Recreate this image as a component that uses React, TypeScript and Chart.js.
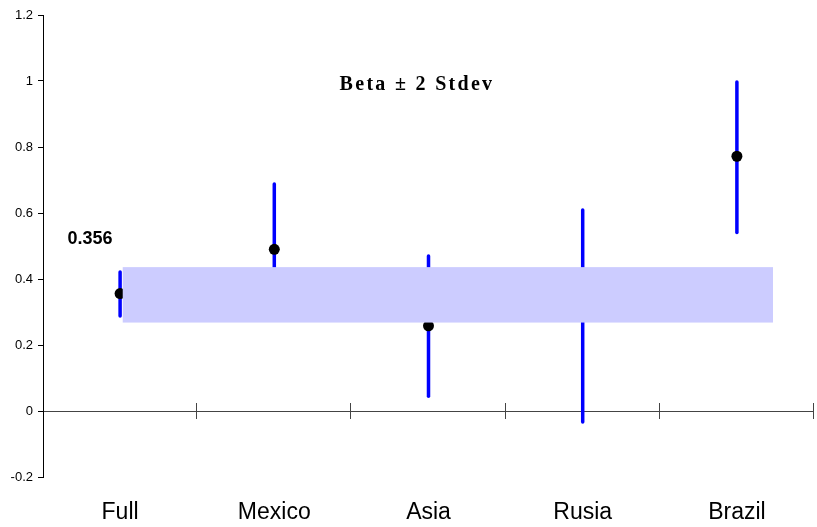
import React, { useEffect, useRef } from "react";
import { Chart, registerables } from "chart.js";

Chart.register(...registerables);

const categories = ["Full", "Mexico", "Asia", "Rusia", "Brazil"];
const betaMeans = [0.356, 0.49, 0.258, 0.288, 0.772];
const lowerBounds = [0.288, 0.292, 0.045, -0.033, 0.541];
const upperBounds = [0.421, 0.688, 0.47, 0.609, 0.997];
const bandLow = 0.268;
const bandHigh = 0.436;
const bandStart = 0.017;
const bandEnd = 4.234;
const yMin = -0.2;
const yMax = 1.2;
const yStep = 0.2;
const titleText = "Beta \u00b1 2 Stdev";
const fullLabel = "0.356";

export default function App() {
  const canvasRef = useRef<HTMLCanvasElement | null>(null);

  useEffect(() => {
    document.body.style.margin = "0";
    const canvas = canvasRef.current;
    if (!canvas) return;

    const bandPlugin = {
      id: "band",
      afterDatasetsDraw(chart: any) {
        const { ctx, scales } = chart;
        const x = scales.x, y = scales.y;
        const x0 = x.getPixelForValue(bandStart);
        const x1 = x.getPixelForValue(bandEnd);
        const y0 = y.getPixelForValue(bandHigh);
        const y1 = y.getPixelForValue(bandLow);
        ctx.save();
        ctx.fillStyle = "#ccccff";
        ctx.fillRect(x0, y0, x1 - x0, y1 - y0);
        ctx.restore();
      },
      afterDraw(chart: any) {
        const { ctx, scales } = chart;
        const x = scales.x, y = scales.y;
        const zy = y.getPixelForValue(0);
        ctx.save();
        ctx.strokeStyle = "#444";
        ctx.lineWidth = 1;
        for (let i = 0; i < categories.length; i++) {
          const px = Math.round(x.getPixelForValue(i + 0.5)) - 0.5;
          ctx.beginPath();
          ctx.moveTo(px, zy - 8);
          ctx.lineTo(px, zy + 8);
          ctx.stroke();
        }
        // title
        ctx.fillStyle = "#000";
        ctx.font = "bold 20px 'Liberation Serif', 'DejaVu Serif', serif";
        (ctx as any).letterSpacing = "2.3px";
        ctx.textAlign = "center";
        ctx.textBaseline = "alphabetic";
        ctx.fillText(titleText, 417, 90);
        (ctx as any).letterSpacing = "0px";
        // full label
        ctx.font = "bold 18px 'Liberation Sans', Arial, sans-serif";
        const fx = x.getPixelForValue(0);
        const fy = y.getPixelForValue(betaMeans[0]);
        ctx.fillText(fullLabel, fx - 30, fy - 50);
        ctx.restore();
      },
    };

    const errorSets = categories.map((c, i) => ({
      type: "line" as const,
      label: c,
      data: [
        { x: i, y: lowerBounds[i] },
        { x: i, y: upperBounds[i] },
      ],
      borderColor: "#0000ff",
      borderWidth: 3.5,
      borderCapStyle: "round" as const,
      pointRadius: 0,
      fill: false,
    }));

    const chart = new Chart(canvas, {
      type: "scatter",
      data: {
        datasets: [
          {
            type: "scatter" as const,
            label: "Beta",
            data: betaMeans.map((v, i) => ({ x: i, y: v })),
            backgroundColor: "#000",
            borderWidth: 0,
            pointRadius: 5.5,
          },
          ...errorSets,
        ] as any,
      },
      options: {
        animation: false,
        responsive: false,
        layout: { autoPadding: false, padding: { top: 15, right: 3, left: 0, bottom: 0 } },
        plugins: {
          legend: { display: false },
          tooltip: { enabled: false },
          title: { display: false },
        },
        scales: {
          x: {
            type: "linear",
            min: -0.5,
            max: 4.5,
            afterBuildTicks(scale: any) {
              scale.ticks = categories.map((_, i) => ({ value: i }));
            },
            afterFit(scale: any) {
              scale.height = 50;
              scale.paddingRight = 0;
              scale.paddingLeft = 0;
            },
            grid: { display: false, drawTicks: false },
            border: { display: false },
            ticks: {
              padding: 22,
              color: "#000",
              maxRotation: 0,
              autoSkip: false,
              font: { family: "'Liberation Sans', Arial, sans-serif", size: 23 },
              callback: (v: any) => categories[Math.round(Number(v))] ?? "",
            },
          },
          y: {
            type: "linear",
            min: yMin,
            max: yMax,
            afterFit(scale: any) {
              scale.width = 43;
            },
            grid: {
              drawTicks: true,
              tickLength: 5,
              tickColor: "#000",
              color: (ctx: any) =>
                ctx.tick && Math.abs(ctx.tick.value) < 1e-9 ? "#444" : "rgba(0,0,0,0)",
            },
            border: { display: true, color: "#000", width: 1 },
            ticks: {
              stepSize: yStep,
              padding: 5,
              color: "#000",
              font: { family: "'Liberation Sans', Arial, sans-serif", size: 13 },
              callback: (v: any) => String(Number(Number(v).toFixed(1))),
            },
          },
        },
      },
      plugins: [bandPlugin],
    });

    return () => chart.destroy();
  }, []);

  return (
    <div style={{ width: 817, height: 527 }}>
      <canvas ref={canvasRef} width={817} height={527} />
    </div>
  );
}
